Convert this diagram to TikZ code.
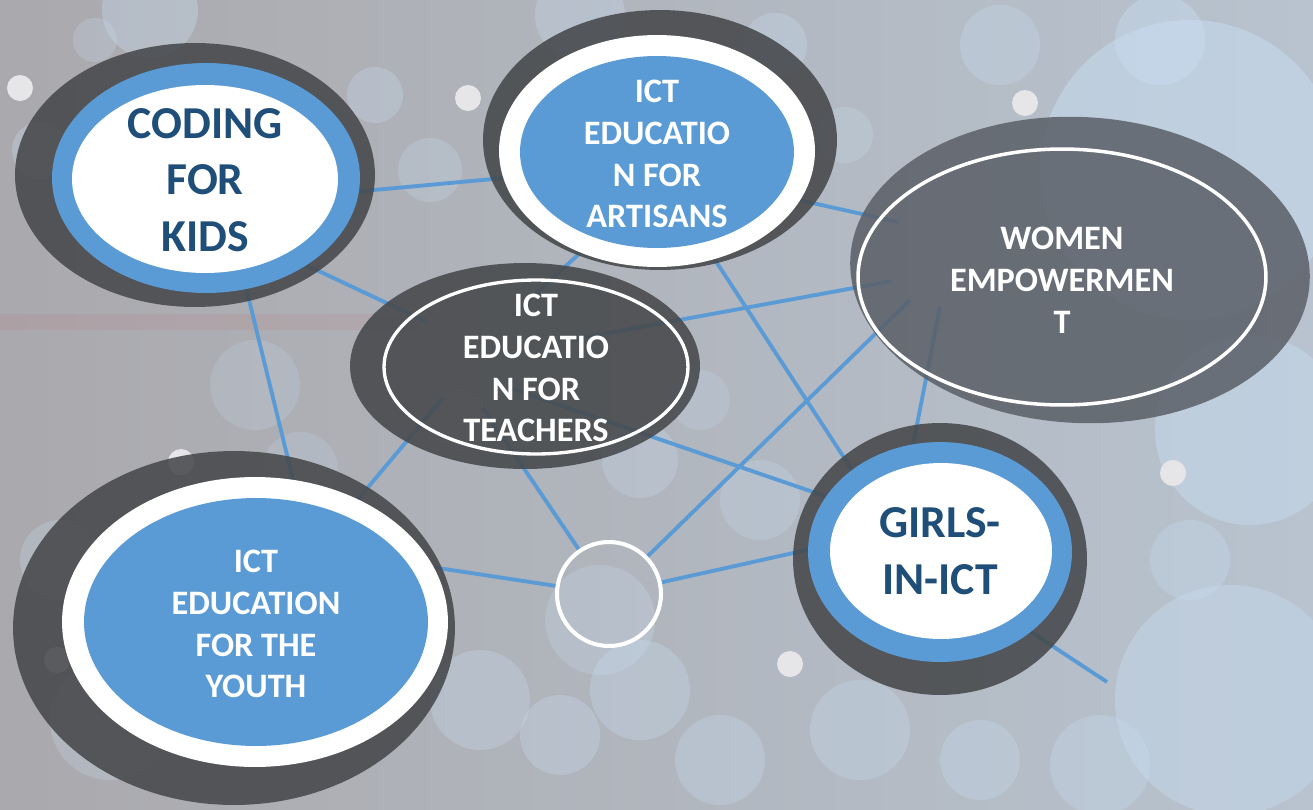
\documentclass[tikz,border=0pt]{standalone}
\usepackage{fontspec}
\setmainfont{Carlito}
\usetikzlibrary{shapes.geometric, backgrounds, positioning}

\definecolor{ictblue}{HTML}{5B9BD5}
\definecolor{txtblue}{HTML}{1F4E79}
\definecolor{ringgrey}{HTML}{46484B}
\definecolor{womengrey}{HTML}{5A5F67}
\definecolor{bgleft}{HTML}{AAA9AD}
\definecolor{bgright}{HTML}{B8C3CF}
\definecolor{bubble}{HTML}{C9DEF2}
\definecolor{spot}{HTML}{E6E6E8}

\pgfdeclarelayer{bg}
\pgfdeclarelayer{links}
\pgfsetlayers{bg,links,main}

\tikzset{
  oval/.style={ellipse, inner sep=0pt, outer sep=0pt},
  outerring/.style={oval, fill=ringgrey, fill opacity=0.88},
  bluering/.style={oval, fill=ictblue},
  whitering/.style={oval, fill=white},
  whiteline/.style={oval, draw=white, line width=1.9pt},
  link/.style={ictblue, line width=2.2pt},
  darklbl/.style={inner sep=0pt, align=center, text=txtblue, font=\fontsize{26}{32.3}\selectfont\bfseries},
  whitelbl/.style={inner sep=0pt, align=center, text=white, font=\fontsize{19.5}{23.8}\selectfont\bfseries},
}

\begin{document}
\begin{tikzpicture}[x=0.02cm, y=-0.02cm]
  \useasboundingbox (0,0) rectangle (1313,809);

  % Backdrop with bubbles and spots
  \begin{pgfonlayer}{bg}
    \shade[left color=bgleft, right color=bgright] (0,0) rectangle (1313,809);
    \fill[red!60!gray, opacity=0.07] (0,314) rectangle (420,330);
    \foreach \bx/\by/\br/\bo in {150/10/48/0.35, 40/150/28/0.3, 95/40/22/0.25, 375/95/28/0.3,
        430/170/32/0.25, 580/15/45/0.3, 775/45/32/0.3, 845/135/28/0.25, 1000/45/40/0.3,
        1190/170/150/0.5, 1250/430/95/0.45, 1230/700/115/0.4, 60/560/40/0.25, 110/720/60/0.25,
        480/700/50/0.3, 560/735/40/0.3, 640/690/50/0.3, 720/760/45/0.3, 860/730/50/0.3,
        980/760/40/0.3, 1100/765/50/0.3, 1190/560/40/0.3, 640/460/38/0.25, 600/620/55/0.25,
        300/470/38/0.2, 255/385/45/0.2, 1160/40/45/0.4, 460/420/30/0.2, 760/500/40/0.25,
        700/400/30/0.2}
      \fill[bubble, opacity=\bo] (\bx,\by) circle[radius=\br];
    \foreach \sx/\sy in {20/88, 468/98, 181/462, 1173/473, 790/664, 1025/103, 57/660}
      \fill[spot] (\sx,\sy) circle[radius=13];
  \end{pgfonlayer}

  % Teachers
  \node[outerring, minimum width=7.0cm, minimum height=4.12cm] (teach) at (525,366) {};
  \node[whiteline, minimum width=6.08cm, minimum height=3.48cm] (teachline) at (536,367) {};
  \node[whitelbl] (teachlbl) at (536,368) {ICT\\EDUCATIO\\N FOR\\TEACHERS};

  % Coding for kids
  \node[outerring, minimum width=7.2cm, minimum height=5.28cm] (kids) at (195,175) {};
  \node[bluering, minimum width=6.16cm, minimum height=4.6cm] (kidsring) at (206,178) {};
  \node[whitering, minimum width=5.32cm, minimum height=3.76cm] (kidsin) at (205,179) {};
  \node[darklbl] (kidslbl) at (205,180) {CODING\\FOR\\KIDS};

  % Artisans
  \node[outerring, minimum width=7.08cm, minimum height=5.2cm] (art) at (660,140) {};
  \node[whitering, minimum width=6.32cm, minimum height=4.64cm] (artring) at (657,151) {};
  \node[bluering, minimum width=5.48cm, minimum height=3.84cm] (artin) at (657,152) {};
  \node[whitelbl] (artlbl) at (657,154) {ICT\\EDUCATIO\\N FOR\\ARTISANS};

  % Women empowerment
  \node[oval, fill=womengrey, fill opacity=0.85, rotate=-3, minimum width=9.2cm, minimum height=6.12cm] (women) at (1080,270) {};
  \node[whiteline, line width=2pt, minimum width=8.16cm, minimum height=5.12cm] (womenline) at (1062,277) {};
  \node[whitelbl] (womenlbl) at (1062,280) {WOMEN\\EMPOWERMEN\\T};

  % Youth
  \node[outerring, minimum width=8.84cm, minimum height=7.08cm] (youth) at (234,628) {};
  \node[whitering, minimum width=7.72cm, minimum height=5.8cm] (youthring) at (255,622) {};
  \node[bluering, minimum width=6.88cm, minimum height=4.96cm] (youthin) at (256,622) {};
  \node[whitelbl] (youthlbl) at (256,624) {ICT\\EDUCATION\\FOR THE\\YOUTH};

  % Girls in ICT
  \node[outerring, minimum width=5.88cm, minimum height=5.44cm] (girls) at (940,559) {};
  \node[bluering, minimum width=5.28cm, minimum height=4.4cm] (girlsring) at (940,552) {};
  \node[whitering, minimum width=4.44cm, minimum height=3.52cm] (girlsin) at (941,551) {};
  \node[darklbl] (girlslbl) at (940,551) {GIRLS-\\IN-ICT};

  % Empty hub circle
  \node[circle, draw=white, line width=2.3pt, minimum size=2.08cm, inner sep=0pt] (hub) at (609,594) {};
  \coordinate (tail) at (1107,682);

  % Links
  \begin{pgfonlayer}{links}
    \draw[link] (kidsring.-5) -- (artring.190);
    \draw[link] (kidsring.-41) -- ([shift={(-98,-44)}]teach.center);
    \draw[link] (kidsring.-70) -- (youthring.75);
    \draw[link] (artring.-127) -- ([shift={(-12,-51)}]teach.center);
    \draw[link] (artring.-19) -- ([shift={(-182,-48)}]women.center);
    \draw[link] (artring.-62) -- (girlsring.137);
    \draw[link] ([shift={(45,-26)}]teach.center) -- ([shift={(-188,11)}]women.center);
    \draw[link] ([shift={(-18,21)}]teach.center) -- (girlsring.154);
    \draw[link] ([shift={(-42,42)}]teach.center) -- (hub);
    \draw[link] ([shift={(-82,32)}]teach.center) -- (youthring.50);
    \draw[link] (youthring.17) -- (hub);
    \draw[link] (hub) -- (girlsring.179);
    \draw[link] (hub) -- ([shift={(-170,30)}]women.center);
    \draw[link] ([shift={(-140,37)}]women.center) -- (girlsring.104);
    \draw[link] (girlsin.-44) -- (tail);
  \end{pgfonlayer}
\end{tikzpicture}
\end{document}
